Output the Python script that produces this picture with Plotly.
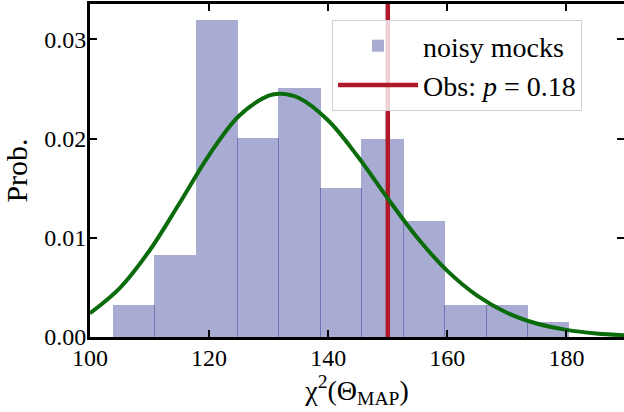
import plotly.graph_objects as go

# Histogram (density)
bin_edges = [103.9, 110.9, 117.8, 124.8, 131.7, 138.7, 145.6, 152.6, 159.5, 166.5, 173.4, 180.4]
bin_density = [0.00322, 0.00826, 0.0319, 0.0201, 0.0251, 0.0150, 0.0200, 0.0117, 0.00322, 0.00322, 0.00151]

# Smooth reference curve
curve_x = [100, 105, 110, 115, 120, 125, 130, 132, 135, 140, 145, 150, 155, 160, 165, 170, 175, 180, 185, 190]
curve_y = [0.0024, 0.00493, 0.00872, 0.01346, 0.01834, 0.02227, 0.02433, 0.02452, 0.02411, 0.02182,
           0.01816, 0.01396, 0.00998, 0.00666, 0.00417, 0.00245, 0.00136, 0.00072, 0.00036, 0.00017]

obs_value = 150.0
obs_label = "Obs: <i>p</i> = 0.18"
hist_label = "noisy mocks"

x_ticks = [100, 120, 140, 160, 180]
y_ticks = [0.00, 0.01, 0.02, 0.03]
x_range = [100, 189.66]
y_range = [0, 0.03356]

SERIF = "Liberation Serif, DejaVu Serif, serif"

centers = [(bin_edges[i] + bin_edges[i + 1]) / 2 for i in range(len(bin_density))]
widths = [(bin_edges[i + 1] - bin_edges[i]) + 0.15 for i in range(len(bin_density))]

fig = go.Figure()
fig.add_trace(go.Bar(
    x=centers, y=bin_density, width=widths,
    marker=dict(color="rgba(6,18,126,0.35)", line=dict(width=0)),
    name=hist_label, hoverinfo="skip",
))
fig.add_trace(go.Scatter(
    x=[obs_value, obs_value], y=[y_range[0], y_range[1]],
    mode="lines", line=dict(color="#b0182a", width=4.5),
    name=obs_label, hoverinfo="skip",
))
fig.add_trace(go.Scatter(
    x=curve_x, y=curve_y, mode="lines", line=dict(color="#0a6b0a", width=4, shape="spline"),
    showlegend=False, hoverinfo="skip",
))
fig.add_trace(go.Scatter(x=[None], y=[None], yaxis="y2", showlegend=False, hoverinfo="skip"))

fig.update_layout(
    width=624, height=412,
    margin=dict(l=90, r=0, t=4, b=75, autoexpand=False),
    plot_bgcolor="white", paper_bgcolor="white",
    font=dict(family=SERIF, size=24, color="black"),
    bargap=0,
    showlegend=True,
    legend=dict(
        x=0.4532, y=0.952, xanchor="left", yanchor="top",
        bgcolor="rgba(255,255,255,0.8)", bordercolor="#d0d0d0", borderwidth=1,
        font=dict(family=SERIF, size=28), itemwidth=80,
        tracegroupgap=0,
    ),
    xaxis=dict(
        range=x_range, tickvals=x_ticks, ticktext=[str(v) for v in x_ticks],
        showline=True, linecolor="black", linewidth=3, mirror="ticks",
        ticks="inside", ticklen=7, tickwidth=1.5, tickcolor="black",
        showgrid=False, zeroline=False, automargin=False, ticklabelstandoff=-3,
        tickfont=dict(family=SERIF, size=24),
        title=dict(text="χ<sup>2</sup>(Θ<sub>MAP</sub>)", font=dict(family=SERIF, size=28), standoff=8),
    ),
    yaxis=dict(
        range=y_range, tickvals=y_ticks, tickformat=".2f",
        showline=True, linecolor="black", linewidth=3, mirror=False,
        ticks="inside", ticklen=7, tickwidth=1.5, tickcolor="black",
        showgrid=False, zeroline=False, automargin=False, ticklabelstandoff=-4,
        tickfont=dict(family=SERIF, size=24),
        title=dict(text="Prob.", font=dict(family=SERIF, size=30), standoff=8),
    ),
    yaxis2=dict(
        overlaying="y", side="right", matches="y", range=y_range, tickvals=y_ticks,
        ticks="inside", ticklen=7, tickwidth=1.5, tickcolor="black",
        showticklabels=False, showline=False, showgrid=False, zeroline=False, automargin=False,
    ),
)

fig.write_html(
    "out.html",
    config={"displayModeBar": False},
    post_script="document.body.style.margin='0';document.body.style.overflow='hidden';",
)
